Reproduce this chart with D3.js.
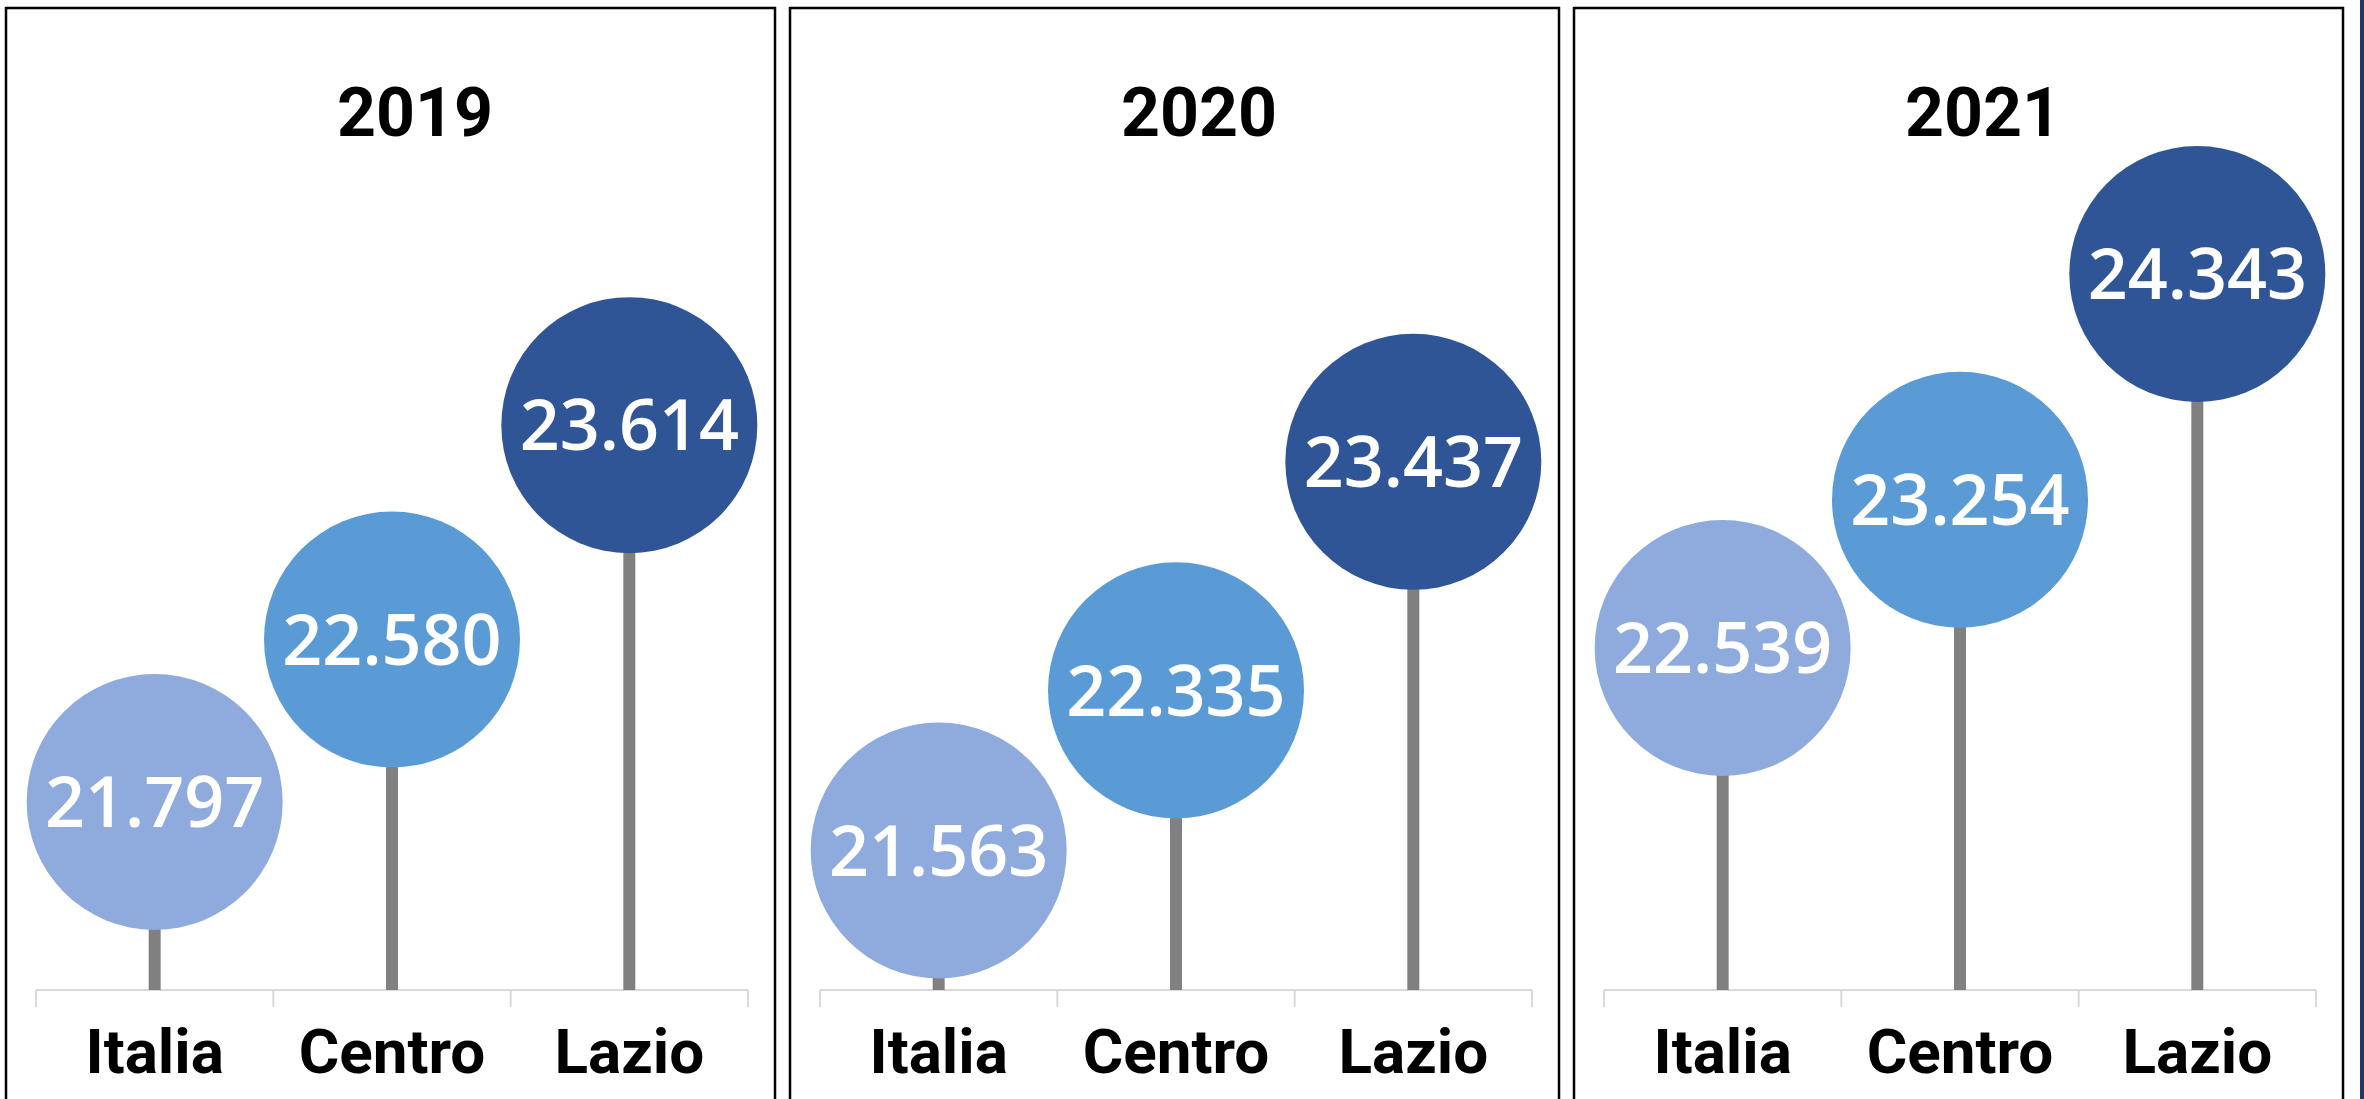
<!DOCTYPE html>
<html>
<head>
<meta charset="utf-8">
<script src="https://cdn.jsdelivr.net/npm/d3@7"></script>
<style>
  html, body { margin: 0; padding: 0; background: #fff; }
  svg { display: block; }
</style>
</head>
<body>
<svg id="chart" width="2364" height="1099"></svg>
<script>
// data
var years = ["2019", "2020", "2021"];
var regions = ["Italia", "Centro", "Lazio"];
var values2019 = [21.797, 22.580, 23.614];
var values2020 = [21.563, 22.335, 23.437];
var values2021 = [22.539, 23.254, 24.343];
var seriesByYear = [values2019, values2020, values2021];
var colors = ["#8faadc", "#5b9bd5", "#2f5597"];

var svg = d3.select("#chart");
var W = 2364, H = 1099;

var panelW = 769, panelGap = 15, panelLeft = 6, panelTop = 8;

var panelX = d3.scaleBand()
	.domain(years)
	.range([panelLeft, panelLeft + 3 * panelW + 2 * panelGap])
	.paddingInner(panelGap / (panelW + panelGap));

// shared value scale for all three panels
var y = d3.scaleLinear()
	.domain([20.89, 24.343])
	.range([990, 274]);

var x = d3.scaleBand()
	.domain(regions)
	.range([30, 742]);

var color = d3.scaleOrdinal().domain(regions).range(colors);

var fmt = d3.format(".3f");
var radius = 128;

// navy strip at the very right edge (next panel cut off)
svg.append("rect")
	.attr("x", 2360).attr("y", 0)
	.attr("width", 4).attr("height", H)
	.attr("fill", "#1f3864");

years.forEach(function(year, i) {
	var data = regions.map(function(r, j) { return { region: r, value: seriesByYear[i][j] }; });

	var g = svg.append("g")
		.attr("transform", "translate(" + panelX(year) + "," + panelTop + ")");

	// panel frame, open at the bottom of the picture
	g.append("rect")
		.attr("x", 0).attr("y", 0)
		.attr("width", panelX.bandwidth())
		.attr("height", H + 20)
		.attr("fill", "none")
		.attr("stroke", "#000")
		.attr("stroke-width", 2.5);

	g.append("text")
		.attr("x", 409)
		.attr("y", 128)
		.attr("text-anchor", "middle")
		.attr("font-family", "Roboto, 'Noto Sans', sans-serif")
		.attr("font-weight", "bold")
		.attr("font-size", 68)
		.attr("fill", "#000")
		.text(year);

	var plot = g.append("g").attr("transform", "translate(0," + (-panelTop) + ")");

	// axis
	var axis = plot.append("g")
		.attr("transform", "translate(0," + y.range()[0] + ")");
	axis.append("line")
		.attr("x1", x.range()[0]).attr("x2", x.range()[1])
		.attr("stroke", "#d9d9d9").attr("stroke-width", 2);
	axis.selectAll("line.tick")
		.data(regions.map(function(r) { return x(r); }).concat([x.range()[1]]))
		.enter().append("line")
		.attr("class", "tick")
		.attr("x1", function(d) { return d; })
		.attr("x2", function(d) { return d; })
		.attr("y1", 0).attr("y2", 17)
		.attr("stroke", "#d9d9d9").attr("stroke-width", 2);

	axis.selectAll("text")
		.data(regions)
		.enter().append("text")
		.attr("x", function(d) { return x(d) + x.bandwidth() / 2; })
		.attr("y", 83)
		.attr("text-anchor", "middle")
		.attr("font-family", "Roboto, 'Noto Sans', sans-serif")
		.attr("font-weight", "bold")
		.attr("font-size", 62)
		.attr("fill", "#000")
		.text(function(d) { return d; });

	// stems
	plot.selectAll("line.stem")
		.data(data)
		.enter().append("line")
		.attr("class", "stem")
		.attr("x1", function(d) { return x(d.region) + x.bandwidth() / 2; })
		.attr("x2", function(d) { return x(d.region) + x.bandwidth() / 2; })
		.attr("y1", y.range()[0])
		.attr("y2", function(d) { return y(d.value); })
		.attr("stroke", "#808080")
		.attr("stroke-width", 12);

	// bubbles
	plot.selectAll("circle")
		.data(data)
		.enter().append("circle")
		.attr("cx", function(d) { return x(d.region) + x.bandwidth() / 2; })
		.attr("cy", function(d) { return y(d.value); })
		.attr("r", radius)
		.attr("fill", function(d) { return color(d.region); });

	plot.selectAll("text.val")
		.data(data)
		.enter().append("text")
		.attr("class", "val")
		.attr("x", function(d) { return x(d.region) + x.bandwidth() / 2; })
		.attr("y", function(d) { return y(d.value); })
		.attr("dy", "0.36em")
		.attr("text-anchor", "middle")
		.attr("font-family", "'Open Sans', 'Noto Sans', sans-serif")
		.attr("font-weight", 600)
		.attr("font-size", 70)
		.attr("fill", "#fff")
		.text(function(d) { return fmt(d.value); });
});
</script>
</body>
</html>
